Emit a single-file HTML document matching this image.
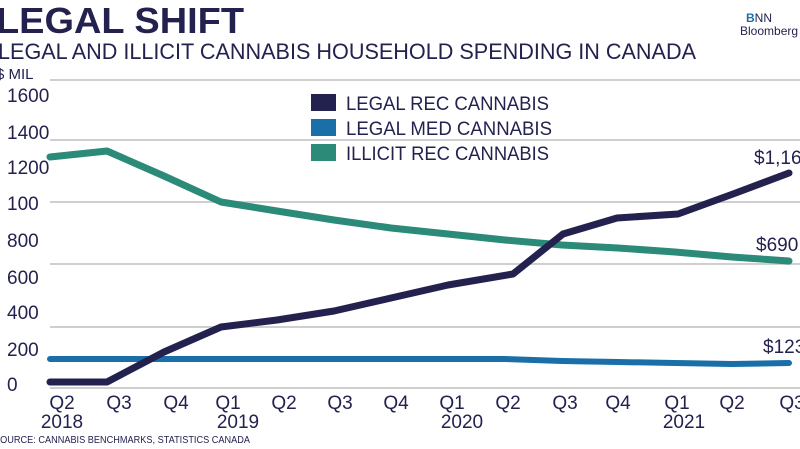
<!DOCTYPE html>
<html><head><meta charset="utf-8"><style>
body{margin:0;background:#fff;width:800px;height:449px;overflow:hidden}
svg{display:block;font-family:"Liberation Sans",Arial,sans-serif}
</style></head><body>
<svg width="800" height="449" viewBox="0 0 800 449">
<text x="-4" y="33" font-size="36" font-weight="bold" fill="#23224f" textLength="248" lengthAdjust="spacingAndGlyphs">LEGAL SHIFT</text>
<text x="-2" y="59" font-size="22" fill="#23224f" textLength="698" lengthAdjust="spacingAndGlyphs">LEGAL AND ILLICIT CANNABIS HOUSEHOLD SPENDING IN CANADA</text>
<text x="-4" y="79" font-size="15" fill="#23224f">$ MIL</text>
<text x="746" y="22" font-size="12" fill="#1a6fa8" font-weight="bold">B<tspan fill="#23224f" font-weight="normal">NN</tspan></text>
<text x="740" y="35" font-size="12" fill="#23224f">Bloomberg</text>
<g stroke="#cfcfcf" stroke-width="2">
<line x1="50" y1="80" x2="800" y2="80"/><line x1="50" y1="140" x2="800" y2="140"/>
<line x1="50" y1="202" x2="800" y2="202"/><line x1="50" y1="264" x2="800" y2="264"/>
<line x1="50" y1="327" x2="800" y2="327"/><line x1="50" y1="388" x2="800" y2="388"/>
</g>
<g font-size="19" fill="#23224f">
<text x="7" y="102">1600</text><text x="7" y="139">1400</text><text x="7" y="174">1200</text>
<text x="7" y="210">100</text><text x="7" y="247">800</text><text x="7" y="284">600</text>
<text x="7" y="319">400</text><text x="7" y="356">200</text><text x="7" y="391">0</text>
</g>
<g font-size="19" fill="#23224f" text-anchor="middle">
<text x="62" y="409">Q2</text><text x="62" y="428">2018</text>
<text x="119" y="409">Q3</text><text x="176" y="409">Q4</text>
<text x="228" y="409">Q1</text><text x="238" y="428">2019</text>
<text x="284" y="409">Q2</text><text x="340" y="409">Q3</text><text x="396" y="409">Q4</text>
<text x="452" y="409">Q1</text><text x="462" y="428">2020</text>
<text x="508" y="409">Q2</text><text x="565" y="409">Q3</text><text x="618" y="409">Q4</text>
<text x="677" y="409">Q1</text><text x="684" y="428">2021</text>
<text x="732" y="409">Q2</text><text x="792" y="409">Q3</text>
</g>
<text x="-6" y="443" font-size="10" fill="#23224f" textLength="256" lengthAdjust="spacingAndGlyphs">SOURCE: CANNABIS BENCHMARKS, STATISTICS CANADA</text>
<g fill="none" stroke-linecap="round" stroke-linejoin="round">
<polyline stroke="#1a6fa8" stroke-width="6" points="50,359 107,359 164,359 221,359 277,359 334,359 391,359 448,359 505,359 562,361 618,362 675,363 732,364 789,363"/>
<polyline stroke="#2b8a78" stroke-width="7" points="50,157 107,151 164,176 221,202 277,211 334,220 391,228 448,234 505,240 562,245 618,248 675,252 732,257 789,261"/>
<polyline stroke="#23224f" stroke-width="7" points="50,382 107,382 164,352 221,327 277,320 334,311 391,298 448,285 513,274 563,234 617,218 678,214 733,194 789,173"/>
</g>
<rect x="311" y="94" width="25" height="17" fill="#23224f"/>
<rect x="311" y="119" width="25" height="17" fill="#1a6fa8"/>
<rect x="311" y="144" width="25" height="17" fill="#2b8a78"/>
<g font-size="19" fill="#23224f">
<text x="346" y="110" textLength="203" lengthAdjust="spacingAndGlyphs">LEGAL REC CANNABIS</text>
<text x="346" y="135" textLength="206" lengthAdjust="spacingAndGlyphs">LEGAL MED CANNABIS</text>
<text x="346" y="160" textLength="203" lengthAdjust="spacingAndGlyphs">ILLICIT REC CANNABIS</text>
</g>
<g font-size="19" fill="#23224f">
<text x="754" y="164">$1,167</text>
<text x="756" y="251">$690</text>
<text x="763" y="353">$123</text>
</g>
</svg>
</body></html>
